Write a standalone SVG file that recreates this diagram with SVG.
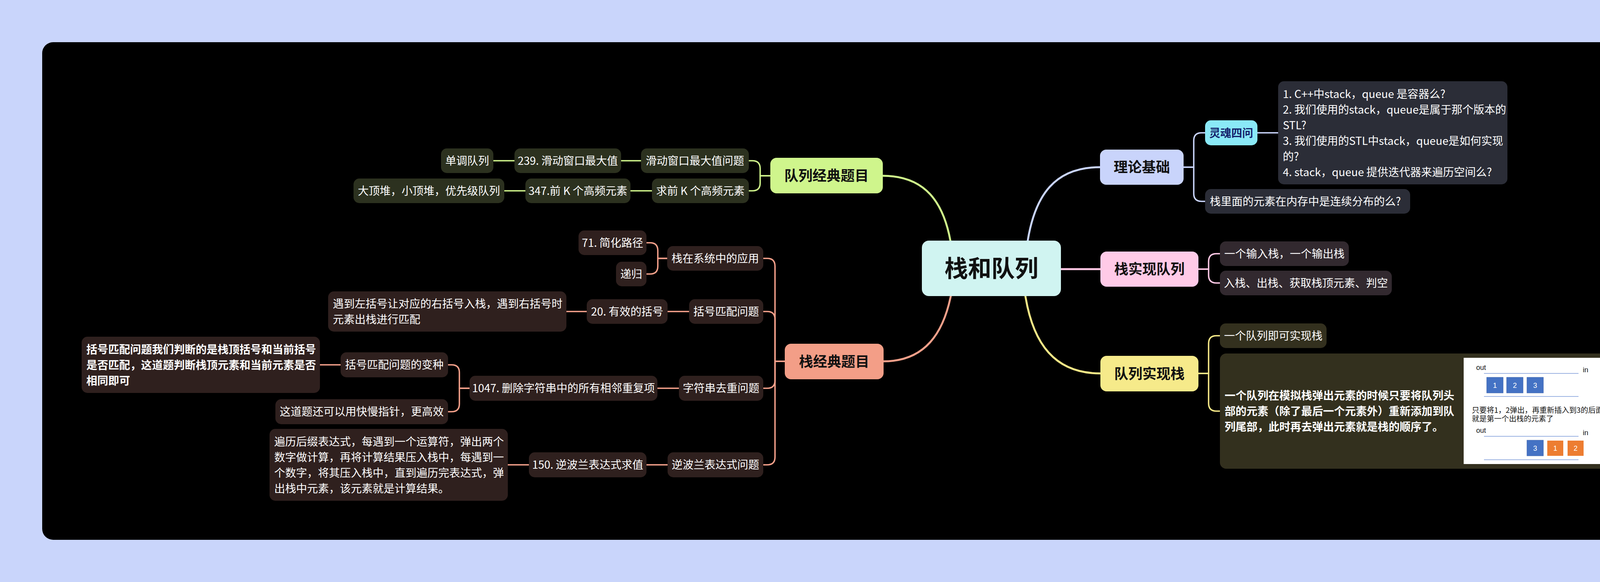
<svg xmlns="http://www.w3.org/2000/svg" width="4368" height="1490" viewBox="0 0 4368 1490">
<style>
text{font-family:"Noto Sans CJK SC","Noto Sans",sans-serif;}
.t{font-size:28px;fill:#ffffff;}
.tb{font-size:28px;fill:#ffffff;font-weight:bold;}
.m{text-anchor:middle;}
.l1{font-size:36px;font-weight:bold;fill:#111111;text-anchor:middle;}
.c{fill:none;stroke-width:3.6;stroke-linecap:round;stroke-linejoin:round;}
.cm{fill:none;stroke-width:5;stroke-linecap:round;}
.blue{stroke:#c9d4fa;} .pink{stroke:#ffc9e6;} .yel{stroke:#f5e887;} .grn{stroke:#cff48b;} .sal{stroke:#f4a08a;}
.fb{fill:#2b2d37;} .fp{fill:#32292f;} .fy{fill:#33301e;} .fg{fill:#2c311f;} .fs{fill:#2f201e;}
.img{font-family:"Liberation Sans","Noto Sans",sans-serif;font-size:18px;fill:#111;}
.cap{font-size:19px;fill:#111;}
.sq{stroke:#3a62ae;stroke-width:1;}
.num{font-family:"Liberation Sans",sans-serif;font-size:18px;fill:#fff;text-anchor:middle;}
.ln{stroke:#7b9ad8;stroke-width:1.5;}
</style>
<rect x="0" y="0" width="4368" height="1490" fill="#c9d5fb"/>
<rect x="108" y="108" width="4152" height="1274" rx="28" fill="#000000"/>

<g id="connectors">
  <path class="cm blue" d="M2631 616 C2650 500 2700 428 2816 428"/>
  <path class="cm pink" d="M2716 689 H2817"/>
  <path class="cm yel" d="M2625 758 C2645 880 2700 956 2817 956"/>
  <path class="cm grn" d="M2433 616 C2415 520 2370 450 2260 450"/>
  <path class="cm sal" d="M2434 758 C2415 850 2370 925 2262 925"/>

  <path class="c blue" d="M3030 428 H3056 V360 Q3056 340 3076 340 H3085"/>
  <path class="c blue" d="M3030 428 H3056 V495.5 Q3056 515.5 3076 515.5 H3085"/>
  <path class="c blue" d="M3219 340 H3272"/>

  <path class="c pink" d="M3068 689 H3094 V669.5 Q3094 649.5 3114 649.5 H3123"/>
  <path class="c pink" d="M3068 689 H3094 V704.5 Q3094 724.5 3114 724.5 H3123"/>

  <path class="c yel" d="M3068 956 H3094 V879.5 Q3094 859.5 3114 859.5 H3123"/>
  <path class="c yel" d="M3068 956 H3094 V1032.5 Q3094 1052.5 3114 1052.5 H3123"/>

  <path class="c grn" d="M1972 450 H1946 V431.5 Q1946 411.5 1926 411.5 H1917"/>
  <path class="c grn" d="M1972 450 H1946 V468.5 Q1946 488.5 1926 488.5 H1917"/>
  <path class="c grn" d="M1641 411.5 H1590"/>
  <path class="c grn" d="M1317 411.5 H1263"/>
  <path class="c grn" d="M1669 488.5 H1614"/>
  <path class="c grn" d="M1345 488.5 H1291"/>

  <path class="c sal" d="M2009 925 H1984 V681.5 Q1984 661.5 1964 661.5 H1954"/>
  <path class="c sal" d="M2009 925 H1984 V817.5 Q1984 797.5 1964 797.5 H1954"/>
  <path class="c sal" d="M2009 925 H1984 V974 Q1984 994 1964 994 H1954"/>
  <path class="c sal" d="M2009 925 H1984 V1170 Q1984 1190 1964 1190 H1954"/>
  <path class="c sal" d="M1708 661.5 H1684 V641.5 Q1684 621.5 1664 621.5 H1655"/>
  <path class="c sal" d="M1708 661.5 H1684 V681.5 Q1684 701.5 1664 701.5 H1655"/>
  <path class="c sal" d="M1764 797.5 H1709"/>
  <path class="c sal" d="M1502 797.5 H1450"/>
  <path class="c sal" d="M1738 994 H1683"/>
  <path class="c sal" d="M1202 994 H1176 V954 Q1176 934 1156 934 H1147"/>
  <path class="c sal" d="M1202 994 H1176 V1034 Q1176 1054 1156 1054 H1147"/>
  <path class="c sal" d="M872 934 H819"/>
  <path class="c sal" d="M1709 1190 H1655"/>
  <path class="c sal" d="M1354 1190 H1300"/>
</g>

<g id="root">
  <rect x="2360" y="616" width="356" height="142" rx="18" fill="#d0f4f1"/>
  <text x="2538" y="709" style="font-size:60px;font-weight:bold;fill:#111;text-anchor:middle;">栈和队列</text>
</g>

<g id="n-lilun">
  <rect x="2816" y="383" width="214" height="90" rx="16" fill="#c9d4fb"/>
  <text class="l1" x="2923" y="441">理论基础</text>
</g>
<g id="n-linghun">
  <rect x="3085" y="308" width="134" height="64" rx="15" fill="#8ae9f7"/>
  <text x="3152" y="351" style="font-size:28px;font-weight:bold;fill:#14226b;text-anchor:middle;">灵魂四问</text>
</g>
<g id="n-questions">
  <rect class="fb" x="3272" y="208" width="587" height="264" rx="15"/>
  <text class="t" x="3284" y="251">1. C++中stack，queue 是容器么?</text>
  <text class="t" x="3284" y="291">2. 我们使用的stack，queue是属于那个版本的</text>
  <text class="t" x="3284" y="331">STL?</text>
  <text class="t" x="3284" y="371">3. 我们使用的STL中stack，queue是如何实现</text>
  <text class="t" x="3284" y="411">的?</text>
  <text class="t" x="3284" y="451">4. stack，queue 提供迭代器来遍历空间么?</text>
</g>
<g id="n-neicun">
  <rect class="fb" x="3085" y="484" width="525" height="63" rx="15"/>
  <text class="t" x="3097" y="526">栈里面的元素在内存中是连续分布的么?</text>
</g>

<g id="n-zhanshixian">
  <rect x="2817" y="644" width="251" height="90" rx="16" fill="#ffcae7"/>
  <text class="l1" x="2942.5" y="702">栈实现队列</text>
</g>
<g id="n-shuru">
  <rect class="fp" x="3123" y="618" width="330" height="63" rx="15"/>
  <text class="t m" x="3288" y="660">一个输入栈，一个输出栈</text>
</g>
<g id="n-rujian">
  <rect class="fp" x="3123" y="693" width="440" height="63" rx="15"/>
  <text class="t m" x="3343" y="735">入栈、出栈、获取栈顶元素、判空</text>
</g>

<g id="n-duilieshixian">
  <rect x="2817" y="911" width="251" height="91" rx="16" fill="#f6ea8a"/>
  <text class="l1" x="2942.5" y="970">队列实现栈</text>
</g>
<g id="n-yigeduilie">
  <rect class="fy" x="3123" y="828" width="273" height="63" rx="15"/>
  <text class="t m" x="3259.5" y="870">一个队列即可实现栈</text>
</g>
<g id="n-moni">
  <rect class="fy" x="3123" y="905" width="1036" height="295" rx="16"/>
  <text class="tb" x="3135" y="1023">一个队列在模拟栈弹出元素的时候只要将队列头</text>
  <text class="tb" x="3135" y="1063">部的元素（除了最后一个元素外）重新添加到队</text>
  <text class="tb" x="3135" y="1103">列尾部，此时再去弹出元素就是栈的顺序了。</text>
  <rect x="3747" y="916" width="401" height="272" fill="#ffffff"/>
  <text class="img" x="3779" y="947">out</text>
  <text class="img" x="4052" y="953">in</text>
  <line class="ln" x1="3799" y1="956" x2="4041" y2="956"/>
  <rect class="sq" x="3806" y="966" width="42" height="40" fill="#4472c4"/>
  <rect class="sq" x="3857" y="966" width="42" height="40" fill="#4472c4"/>
  <rect class="sq" x="3909" y="966" width="42" height="40" fill="#4472c4"/>
  <text class="num" x="3827" y="993">1</text>
  <text class="num" x="3878" y="993">2</text>
  <text class="num" x="3930" y="993">3</text>
  <line class="ln" x1="3799" y1="1015" x2="4041" y2="1015"/>
  <text class="cap" x="3768" y="1057">只要将1，2弹出，再重新插入到3的后面，3</text>
  <text class="cap" x="3768" y="1079">就是第一个出栈的元素了</text>
  <text class="img" x="3779" y="1108">out</text>
  <text class="img" x="4052" y="1114">in</text>
  <line class="ln" x1="3799" y1="1117" x2="4041" y2="1117"/>
  <rect class="sq" x="3909" y="1127" width="42" height="40" fill="#4472c4"/>
  <rect x="3961" y="1128" width="41" height="39" fill="#ed7d31"/>
  <rect x="4013" y="1128" width="41" height="39" fill="#ed7d31"/>
  <text class="num" x="3930" y="1154">3</text>
  <text class="num" x="3981.5" y="1154">1</text>
  <text class="num" x="4033.5" y="1154">2</text>
  <line class="ln" x1="3799" y1="1177" x2="4041" y2="1177"/>
</g>

<g id="n-duiliejingdian">
  <rect x="1972" y="404" width="288" height="91" rx="16" fill="#cff58c"/>
  <text class="l1" x="2116" y="463">队列经典题目</text>
</g>
<g id="n-huadongwenti">
  <rect class="fg" x="1641" y="380" width="276" height="63" rx="15"/>
  <text class="t m" x="1779" y="422">滑动窗口最大值问题</text>
</g>
<g id="n-239">
  <rect class="fg" x="1317" y="380" width="273" height="63" rx="15"/>
  <text class="t m" x="1453.5" y="422">239. 滑动窗口最大值</text>
</g>
<g id="n-dandiao">
  <rect class="fg" x="1129" y="380" width="134" height="63" rx="15"/>
  <text class="t m" x="1196" y="422">单调队列</text>
</g>
<g id="n-qiuqiank">
  <rect class="fg" x="1669" y="457" width="248" height="63" rx="15"/>
  <text class="t m" x="1793" y="499">求前 K 个高频元素</text>
</g>
<g id="n-347">
  <rect class="fg" x="1345" y="457" width="269" height="63" rx="15"/>
  <text class="t m" x="1479.5" y="499">347.前 K 个高频元素</text>
</g>
<g id="n-dadingdui">
  <rect class="fg" x="905" y="457" width="386" height="63" rx="15"/>
  <text class="t m" x="1098" y="499">大顶堆，小顶堆，优先级队列</text>
</g>

<g id="n-zhanjingdian">
  <rect x="2009" y="880" width="253" height="91" rx="16" fill="#f39e87"/>
  <text class="l1" x="2135.5" y="939">栈经典题目</text>
</g>
<g id="n-xitong">
  <rect class="fs" x="1708" y="630" width="246" height="63" rx="15"/>
  <text class="t m" x="1831" y="672">栈在系统中的应用</text>
</g>
<g id="n-71">
  <rect class="fs" x="1481" y="590" width="174" height="63" rx="15"/>
  <text class="t m" x="1568" y="632">71. 简化路径</text>
</g>
<g id="n-digui">
  <rect class="fs" x="1577" y="670" width="78" height="63" rx="15"/>
  <text class="t m" x="1616" y="712">递归</text>
</g>
<g id="n-kuohao">
  <rect class="fs" x="1764" y="766" width="190" height="63" rx="15"/>
  <text class="t m" x="1859" y="808">括号匹配问题</text>
</g>
<g id="n-20">
  <rect class="fs" x="1502" y="766" width="207" height="63" rx="15"/>
  <text class="t m" x="1605.5" y="808">20. 有效的括号</text>
</g>
<g id="n-yudao">
  <rect class="fs" x="840" y="746" width="610" height="103" rx="15"/>
  <text class="t" x="852" y="788">遇到左括号让对应的右括号入栈，遇到右括号时</text>
  <text class="t" x="852" y="828">元素出栈进行匹配</text>
</g>
<g id="n-quchong">
  <rect class="fs" x="1738" y="962" width="216" height="64" rx="15"/>
  <text class="t m" x="1846" y="1004">字符串去重问题</text>
</g>
<g id="n-1047">
  <rect class="fs" x="1202" y="962" width="481" height="64" rx="15"/>
  <text class="t m" x="1442.5" y="1004">1047. 删除字符串中的所有相邻重复项</text>
</g>
<g id="n-bianzhong">
  <rect class="fs" x="872" y="902" width="275" height="64" rx="15"/>
  <text class="t m" x="1009.5" y="944">括号匹配问题的变种</text>
</g>
<g id="n-panduan">
  <rect class="fs" x="209" y="862" width="610" height="144" rx="15"/>
  <text class="tb" x="221" y="905">括号匹配问题我们判断的是栈顶括号和当前括号</text>
  <text class="tb" x="221" y="945">是否匹配，这道题判断栈顶元素和当前元素是否</text>
  <text class="tb" x="221" y="985">相同即可</text>
</g>
<g id="n-kuaiman">
  <rect class="fs" x="705" y="1022" width="442" height="64" rx="15"/>
  <text class="t m" x="926" y="1064">这道题还可以用快慢指针，更高效</text>
</g>
<g id="n-nibolan">
  <rect class="fs" x="1709" y="1158" width="245" height="64" rx="15"/>
  <text class="t m" x="1831.5" y="1200">逆波兰表达式问题</text>
</g>
<g id="n-150">
  <rect class="fs" x="1354" y="1158" width="301" height="64" rx="15"/>
  <text class="t m" x="1504.5" y="1200">150. 逆波兰表达式求值</text>
</g>
<g id="n-bianli">
  <rect class="fs" x="690" y="1098" width="610" height="184" rx="15"/>
  <text class="t" x="702" y="1141">遍历后缀表达式，每遇到一个运算符，弹出两个</text>
  <text class="t" x="702" y="1181">数字做计算，再将计算结果压入栈中，每遇到一</text>
  <text class="t" x="702" y="1221">个数字，将其压入栈中，直到遍历完表达式，弹</text>
  <text class="t" x="702" y="1261">出栈中元素，该元素就是计算结果。</text>
</g>
</svg>
